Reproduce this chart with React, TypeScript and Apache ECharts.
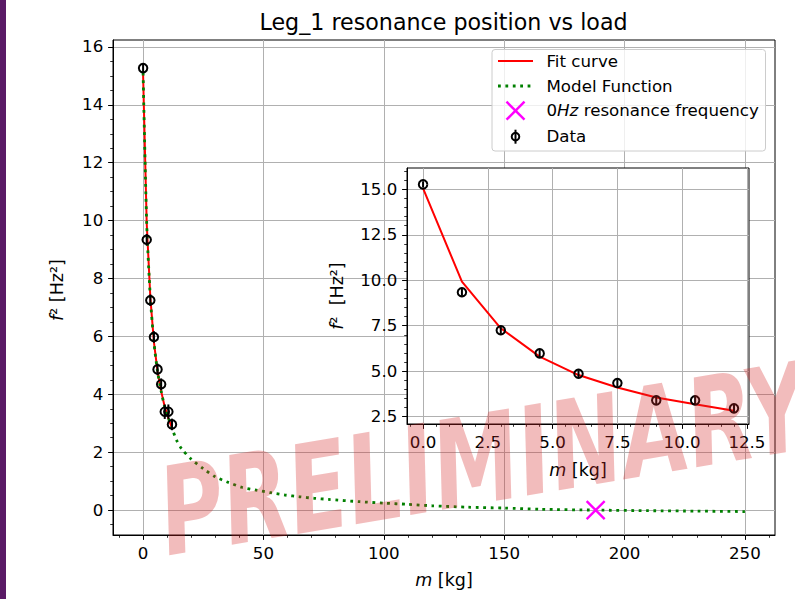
import React, { useEffect, useRef } from "react";
import * as echarts from "echarts";

// ---- data ----
const dataX = [0, 1.5, 3, 4.5, 6, 7.5, 9, 10.5, 12];
const dataY = [15.27, 9.34, 7.25, 5.98, 4.86, 4.35, 3.4, 3.4, 2.96];
const dataErr = [0.17, 0.2, 0.2, 0.2, 0.2, 0.2, 0.25, 0.25, 0.2];
const fitY = [15.05, 9.92, 7.36, 5.8, 4.79, 4.11, 3.56, 3.18, 2.83];
const modelX = [0, 1.5, 3, 4.5, 6, 7.5, 9, 10.5, 12, 14, 16, 20, 25, 30, 35, 41, 47, 53, 59, 65, 71, 77, 90, 100, 110, 120, 135, 150, 165, 188, 210, 230, 250];
const modelY = [15.1, 9.9, 7.36, 5.8, 4.79, 4.11, 3.56, 3.18, 2.83, 2.4, 2.12, 1.76, 1.43, 1.15, 0.97, 0.79, 0.69, 0.6, 0.52, 0.46, 0.41, 0.37, 0.29, 0.24, 0.2, 0.15, 0.1, 0.07, 0.03, 0.0, -0.02, -0.035, -0.05];
const zeroX = [188];
const zeroY = [0];

const mainXTicks = [0, 50, 100, 150, 200, 250];
const mainYTicks = [0, 2, 4, 6, 8, 10, 12, 14, 16];
const insetXTicks = [0, 2.5, 5, 7.5, 10, 12.5];
const insetYTicks = [2.5, 5, 7.5, 10, 12.5, 15];

const FONT = "DejaVu Sans";
const TICK_FS = 16.67;
const LABEL_FS = 17.5;
const LEGEND_FS = 16.67;

function minorTicks(from: number, to: number, step: number, major: number[]) {
  const out: number[] = [];
  for (let v = from; v <= to + 1e-9; v += step) {
    const r = Math.round(v * 1000) / 1000;
    if (!major.some((m) => Math.abs(m - r) < 1e-6)) out.push(r);
  }
  return out;
}

function majorAxis(gridIndex: number, min: number, max: number, ticks: number[], pos: string, fmt?: (v: number) => string, z = 0) {
  return {
    type: "value",
    gridIndex,
    position: pos,
    min,
    max,
    z,
    axisLine: { show: true, onZero: false, lineStyle: { color: "#000", width: 1 } },
    axisTick: { show: true, customValues: ticks, length: 4.9, lineStyle: { color: "#000", width: 1 } },
    axisLabel: {
      show: true,
      customValues: ticks,
      margin: 9.7,
      color: "#000",
      fontSize: TICK_FS,
      fontFamily: FONT,
      formatter: fmt ? (v: number) => fmt(v) : undefined,
    },
    splitLine: { show: true, lineStyle: { color: "#b0b0b0", width: 1 } },
  };
}

function minorAxis(gridIndex: number, min: number, max: number, ticks: number[], pos: string, z = 0) {
  return {
    type: "value",
    gridIndex,
    position: pos,
    min,
    max,
    z,
    axisLine: { show: false, onZero: false },
    axisTick: { show: true, customValues: ticks, length: 2.8, lineStyle: { color: "#000", width: 0.8 } },
    axisLabel: { show: false },
    splitLine: { show: false },
  };
}

export default function App() {
  const ref = useRef<HTMLDivElement>(null);
  useEffect(() => {
    if (!ref.current) return;
    const chart = echarts.init(ref.current, undefined, { renderer: "svg" });

    const mainXMin = -12.5, mainXMax = 262.5;
    const mainYMin = -0.86, mainYMax = 16.24;
    const inXMin = -0.62, inXMax = 12.58;
    const inYMin = 2.1, inYMax = 16.17;

    const points = dataX.map((x, i) => [x, dataY[i]]);
    const errs = dataX.map((x, i) => [x, dataY[i], dataErr[i]]);
    const fit = dataX.map((x, i) => [x, fitY[i]]);
    const model = modelX.map((x, i) => [x, modelY[i]]);
    const zero = zeroX.map((x, i) => [x, zeroY[i]]);

    const errRender = (params: any, api: any) => {
      const x = api.value(0), y = api.value(1), e = api.value(2);
      const p1 = api.coord([x, y - e]);
      const p2 = api.coord([x, y + e]);
      return {
        type: "line",
        shape: { x1: p1[0], y1: p1[1], x2: p2[0], y2: p2[1] },
        style: { stroke: "#000", lineWidth: 2 },
      };
    };

    const legendRows = [61, 86, 110.7, 136.7];
    const legendTextX = 546.5;
    const lx0 = 498, lx1 = 533, lxc = 515.5;

    const italicRich = (fs: number) => ({ i: { fontStyle: "italic", fontSize: fs, fontFamily: FONT, fill: "#000" } });

    const option: any = {
      animation: false,
      backgroundColor: "#fff",
      textStyle: { fontFamily: FONT },
      grid: [
        { left: 113, top: 40, width: 662, height: 495, show: true, borderColor: "#000", borderWidth: 1, backgroundColor: "transparent", z: 0 },
        { left: 407, top: 168, width: 342, height: 256, show: true, borderColor: "#000", borderWidth: 1, backgroundColor: "#fff", z: 3 },
      ],
      xAxis: [
        majorAxis(0, mainXMin, mainXMax, mainXTicks, "bottom"),
        minorAxis(0, mainXMin, mainXMax, minorTicks(-10, 260, 10, mainXTicks), "bottom"),
        majorAxis(1, inXMin, inXMax, insetXTicks, "bottom", (v) => v.toFixed(1), 4),
        minorAxis(1, inXMin, inXMax, minorTicks(-0.5, 12.5, 0.5, insetXTicks), "bottom", 4),
      ],
      yAxis: [
        majorAxis(0, mainYMin, mainYMax, mainYTicks, "left"),
        minorAxis(0, mainYMin, mainYMax, minorTicks(-0.5, 16, 0.5, mainYTicks), "left"),
        majorAxis(1, inYMin, inYMax, insetYTicks, "left", (v) => v.toFixed(1), 4),
        minorAxis(1, inYMin, inYMax, minorTicks(2.5, 16, 0.5, insetYTicks), "left", 4),
      ],
      series: [
        {
          type: "line", name: "Fit curve", xAxisIndex: 0, yAxisIndex: 0, data: fit, showSymbol: false, z: 2,
          lineStyle: { color: "#ff0000", width: 2 },
        },
        {
          type: "line", name: "Model Function", xAxisIndex: 0, yAxisIndex: 0, data: model, showSymbol: false, smooth: 0.25, z: 3,
          lineStyle: { color: "#008000", width: 2.8, type: [2.8, 4.6], cap: "butt" },
        },
        {
          type: "custom", name: "err", xAxisIndex: 0, yAxisIndex: 0, data: errs, renderItem: errRender, z: 4,
          encode: { x: 0, y: 1 },
        },
        {
          type: "scatter", name: "Data", xAxisIndex: 0, yAxisIndex: 0, data: points, symbol: "circle", symbolSize: 8.5, z: 5,
          itemStyle: { color: "rgba(0,0,0,0)", borderColor: "#000", borderWidth: 2, opacity: 1 },
        },
        {
          type: "scatter", name: "0Hz", xAxisIndex: 0, yAxisIndex: 0, data: zero, symbol: "path://M0,0L10,10M10,0L0,10", symbolSize: 18, z: 6,
          itemStyle: { color: "rgba(0,0,0,0)", borderColor: "#ff00ff", borderWidth: 2.4, opacity: 1 },
        },
        {
          type: "line", name: "Fit inset", xAxisIndex: 2, yAxisIndex: 2, data: fit, showSymbol: false, z: 10,
          lineStyle: { color: "#ff0000", width: 2 },
        },
        {
          type: "custom", name: "err inset", xAxisIndex: 2, yAxisIndex: 2, data: errs, renderItem: errRender, z: 11,
          encode: { x: 0, y: 1 },
        },
        {
          type: "scatter", name: "Data inset", xAxisIndex: 2, yAxisIndex: 2, data: points, symbol: "circle", symbolSize: 8.5, z: 12,
          itemStyle: { color: "rgba(0,0,0,0)", borderColor: "#000", borderWidth: 2, opacity: 1 },
        },
      ],
      graphic: [
        { type: "rect", left: 0, top: 0, shape: { x: 0, y: 0, width: 6, height: 599 }, style: { fill: "#5a1a66" }, z: 100 },
        {
          type: "text", x: 443.5, y: 22, z: 100,
          style: { text: "Leg_1 resonance position vs load", fontSize: 22.2, fontFamily: FONT, fill: "#000", align: "center", verticalAlign: "middle" },
        },
        {
          type: "text", x: 444, y: 580, z: 100,
          style: { text: "{i|m} [kg]", fontSize: LABEL_FS, fontFamily: FONT, fill: "#000", align: "center", verticalAlign: "middle", rich: italicRich(LABEL_FS) },
        },
        {
          type: "text", x: 57, y: 290, rotation: Math.PI / 2, z: 100,
          style: { text: "{i|f}² [Hz²]", fontSize: LABEL_FS, fontFamily: FONT, fill: "#000", align: "center", verticalAlign: "middle", rich: italicRich(LABEL_FS) },
        },
        {
          type: "text", x: 578, y: 470, z: 100,
          style: { text: "{i|m} [kg]", fontSize: LABEL_FS, fontFamily: FONT, fill: "#000", align: "center", verticalAlign: "middle", rich: italicRich(LABEL_FS) },
        },
        {
          type: "text", x: 337, y: 296, rotation: Math.PI / 2, z: 100,
          style: { text: "{i|f}²  [Hz²]", fontSize: LABEL_FS, fontFamily: FONT, fill: "#000", align: "center", verticalAlign: "middle", rich: italicRich(LABEL_FS) },
        },
        // legend
        {
          type: "group", z: 60,
          children: [
            { type: "rect", shape: { x: 492, y: 49.5, width: 273.5, height: 101.5, r: 3 }, style: { fill: "rgba(255,255,255,0.8)", stroke: "#cccccc", lineWidth: 1 }, z: 60 },
            { type: "line", shape: { x1: lx0, y1: legendRows[0], x2: lx1, y2: legendRows[0] }, style: { stroke: "#ff0000", lineWidth: 2 }, z: 61 },
            { type: "line", shape: { x1: lx0, y1: legendRows[1], x2: lx1, y2: legendRows[1] }, style: { stroke: "#008000", lineWidth: 2.8, lineDash: [2.8, 4.6] }, z: 61 },
            { type: "line", shape: { x1: lxc - 9, y1: legendRows[2] - 9, x2: lxc + 9, y2: legendRows[2] + 9 }, style: { stroke: "#ff00ff", lineWidth: 2.4 }, z: 61 },
            { type: "line", shape: { x1: lxc - 9, y1: legendRows[2] + 9, x2: lxc + 9, y2: legendRows[2] - 9 }, style: { stroke: "#ff00ff", lineWidth: 2.4 }, z: 61 },
            { type: "line", shape: { x1: lxc, y1: legendRows[3] - 7, x2: lxc, y2: legendRows[3] + 7 }, style: { stroke: "#000", lineWidth: 2 }, z: 61 },
            { type: "circle", shape: { cx: lxc, cy: legendRows[3], r: 3.8 }, style: { fill: "none", stroke: "#000", lineWidth: 2 }, z: 61 },
            { type: "text", x: legendTextX, y: legendRows[0], style: { text: "Fit curve", fontSize: LEGEND_FS, fontFamily: FONT, fill: "#000", verticalAlign: "middle" }, z: 61 },
            { type: "text", x: legendTextX, y: legendRows[1], style: { text: "Model Function", fontSize: LEGEND_FS, fontFamily: FONT, fill: "#000", verticalAlign: "middle" }, z: 61 },
            {
              type: "text", x: legendTextX, y: legendRows[2], z: 61,
              style: { text: "0{i|Hz} resonance frequency", fontSize: LEGEND_FS, fontFamily: FONT, fill: "#000", verticalAlign: "middle", rich: italicRich(LEGEND_FS) },
            },
            { type: "text", x: legendTextX, y: legendRows[3], style: { text: "Data", fontSize: LEGEND_FS, fontFamily: FONT, fill: "#000", verticalAlign: "middle" }, z: 61 },
          ],
        },
        // watermark
        {
          type: "text", x: 484, y: 460, rotation: 0.165, scaleX: 0.71, z: 200,
          style: {
            text: "PRELIMINARY", fontSize: 122, fontWeight: "bold", fontStyle: "italic", fontFamily: FONT,
            fill: "rgba(214,39,40,0.31)", align: "center", verticalAlign: "middle",
          },
        },
      ],
    };
    chart.setOption(option);
    return () => chart.dispose();
  }, []);
  return <div ref={ref} style={{ position: "fixed", left: 0, top: 0, width: 795, height: 599, background: "#fff" }} />;
}
